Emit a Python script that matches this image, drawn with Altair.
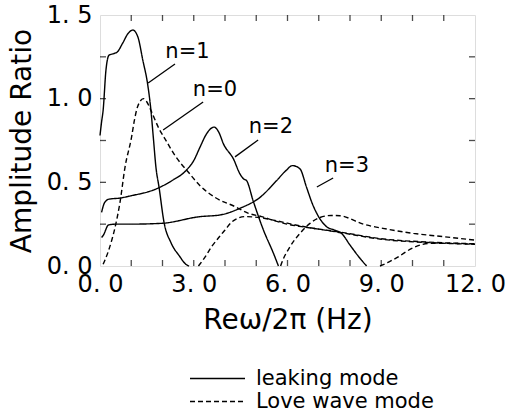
import altair as alt
import pandas as pd

# ---- curve data ----
n1_leak_x = [0.0, 0.05, 0.1, 0.19, 0.29, 0.45, 0.56, 0.72, 0.9, 1.05, 1.21, 1.37, 1.53, 1.63, 1.71, 1.79, 1.89, 2.05, 2.27, 2.54, 2.75, 2.85]
n1_leak_y = [0.78, 0.86, 0.93, 1.17, 1.26, 1.27, 1.28, 1.33, 1.39, 1.41, 1.37, 1.23, 1.08, 0.93, 0.76, 0.59, 0.47, 0.26, 0.14, 0.06, 0.01, 0.0]

n2_leak_x = [0.05, 0.15, 0.3, 0.6, 1.0, 1.79, 2.3, 2.75, 3.0, 3.2, 3.41, 3.65, 3.8, 3.95, 4.27, 4.48, 4.6, 4.69, 4.9, 5.23, 5.55, 5.71]
n2_leak_y = [0.32, 0.38, 0.40, 0.405, 0.42, 0.46, 0.51, 0.57, 0.63, 0.71, 0.79, 0.83, 0.80, 0.73, 0.64, 0.55, 0.52, 0.51, 0.39, 0.215, 0.076, 0.0]

n3_leak_x = [0.05, 0.11, 0.27, 0.5, 0.91, 1.97, 3.2, 3.84, 4.48, 5.12, 5.65, 5.95, 6.16, 6.4, 6.61, 6.8, 6.95, 7.25, 7.5, 7.73, 8.0, 8.32, 8.53]
n3_leak_y = [0.17, 0.185, 0.245, 0.25, 0.25, 0.255, 0.295, 0.305, 0.345, 0.41, 0.51, 0.57, 0.60, 0.58, 0.47, 0.37, 0.31, 0.235, 0.215, 0.195, 0.125, 0.046, 0.0]

n0_love_x = [0.1, 0.27, 0.48, 0.64, 0.8, 1.01, 1.1, 1.2, 1.39, 1.5, 1.63, 1.89, 2.08, 2.4, 2.83, 3.2, 3.68, 4.32, 4.75, 5.17, 5.6, 6.0, 6.45, 7.0, 7.84, 9.0, 10.5, 12.0]
n0_love_y = [0.01, 0.09, 0.23, 0.38, 0.59, 0.77, 0.87, 0.95, 1.0, 0.98, 0.93, 0.82, 0.76, 0.66, 0.56, 0.48, 0.41, 0.355, 0.315, 0.295, 0.27, 0.25, 0.235, 0.22, 0.195, 0.16, 0.14, 0.13]

n1_love_x = [3.15, 3.35, 3.57, 3.8, 4.0, 4.2, 4.4, 4.64, 4.9, 5.1, 5.6, 6.45, 7.84, 9.0, 10.5, 12.0]
n1_love_y = [0.0, 0.05, 0.115, 0.17, 0.215, 0.26, 0.285, 0.295, 0.293, 0.29, 0.272, 0.238, 0.198, 0.163, 0.143, 0.133]

n2_love_x = [5.78, 5.81, 6.08, 6.4, 6.72, 7.04, 7.4, 7.68, 8.43, 9.2, 10.03, 11.0, 12.0]
n2_love_y = [0.0, 0.016, 0.115, 0.195, 0.255, 0.29, 0.302, 0.30, 0.25, 0.22, 0.195, 0.175, 0.155]

n3_love_x = [8.96, 9.2, 9.5, 10.03, 10.56, 11.2, 12.0]
n3_love_y = [0.0, 0.02, 0.05, 0.11, 0.135, 0.135, 0.13]

modes = ["leaking mode", "Love wave mode"]

# ---- annotations ----
label_text = ["n=1", "n=0", "n=2", "n=3"]
label_x = [2.8, 3.68, 5.47, 7.9]
label_y = [1.279, 1.052, 0.83, 0.60]
leader_x = [1.54, 2.02, 4.32, 6.94]
leader_y = [1.094, 0.813, 0.652, 0.472]
leader_x2 = [2.4, 3.3, 5.06, 7.46]
leader_y2 = [1.207, 0.98, 0.753, 0.526]

# ---- axis ticks ----
x_label_values = [0, 3, 6, 9, 12]
y_label_values = [0, 0.5, 1.0, 1.5]
x_tick_values = [1, 2, 3, 4, 5, 6, 7, 8, 9, 10, 11]
y_tick_values = [0.25, 0.5, 0.75, 1.0, 1.25]

series = [
    ("n1_leak", modes[0], n1_leak_x, n1_leak_y),
    ("n2_leak", modes[0], n2_leak_x, n2_leak_y),
    ("n3_leak", modes[0], n3_leak_x, n3_leak_y),
    ("n0_love", modes[1], n0_love_x, n0_love_y),
    ("n1_love", modes[1], n1_love_x, n1_love_y),
    ("n2_love", modes[1], n2_love_x, n2_love_y),
    ("n3_love", modes[1], n3_love_x, n3_love_y),
]
rows = []
for name, mode, xs, ys in series:
    for i, (a, b) in enumerate(zip(xs, ys)):
        rows.append({"series": name, "mode": mode, "x": a, "y": b, "order": i})
df = pd.DataFrame(rows)

ann = pd.DataFrame({"label": label_text, "x": label_x, "y": label_y})
lead = pd.DataFrame({"x": leader_x, "y": leader_y, "x2": leader_x2, "y2": leader_y2})

FONT = "DejaVu Sans"
label_expr = "replace(format(datum.value, '.1f'), '.', '. ')"

xscale = alt.Scale(domain=[0, 12], nice=False, zero=False)
yscale = alt.Scale(domain=[0, 1.5], nice=False, zero=False)

xaxis = alt.Axis(values=x_label_values, title="Reω/2π (Hz)", ticks=False, domain=False, grid=False,
                 labelFlush=False, labelOverlap=False, labelExpr=label_expr, labelFontSize=24,
                 labelFont=FONT, labelColor="black", labelPadding=6, titleFont=FONT,
                 titleFontSize=28, titleFontWeight="normal", titleColor="black", titlePadding=10)
yaxis = alt.Axis(values=y_label_values, title="Amplitude Ratio", ticks=False, domain=False, grid=False,
                 labelFlush=False, labelOverlap=False, labelExpr=label_expr, labelFontSize=24,
                 labelFont=FONT, labelColor="black", labelPadding=8, titleFont=FONT,
                 titleFontSize=28, titleFontWeight="normal", titleColor="black", titlePadding=10)


def X(field):
    return alt.X(field, scale=xscale, axis=xaxis)


def Y(field):
    return alt.Y(field, scale=yscale, axis=yaxis)


lines = alt.Chart(df).mark_line(color="black", strokeWidth=1.4, interpolate="monotone").encode(
    x=X("x:Q"),
    y=Y("y:Q"),
    detail="series:N",
    order="order:Q",
    strokeDash=alt.StrokeDash(
        "mode:N",
        scale=alt.Scale(domain=modes, range=[[1, 0], [5, 3]]),
        legend=alt.Legend(title=None, orient="none", legendX=107, legendY=353, direction="vertical",
                          symbolType="M-5,0H5", symbolSize=121, symbolStrokeWidth=1.4,
                          symbolStrokeColor="black", symbolFillColor="transparent",
                          labelFont=FONT, labelFontSize=21, labelLimit=400,
                          labelColor="black", labelOffset=28, rowPadding=1, padding=0),
    ),
)

leaders = alt.Chart(lead).mark_rule(color="black", strokeWidth=1.3).encode(
    x=X("x:Q"), y=Y("y:Q"), x2="x2:Q", y2="y2:Q"
)

texts = alt.Chart(ann).mark_text(font=FONT, fontSize=21, color="black", align="center",
                                 baseline="middle").encode(x=X("x:Q"), y=Y("y:Q"), text="label:N")

bx = pd.DataFrame({"x": x_tick_values, "y": [0.0] * len(x_tick_values)})
tx = pd.DataFrame({"x": x_tick_values, "y": [1.5] * len(x_tick_values)})
ly = pd.DataFrame({"x": [0.0] * len(y_tick_values), "y": y_tick_values})
ry = pd.DataFrame({"x": [12.0] * len(y_tick_values), "y": y_tick_values})

tick_b = alt.Chart(bx).mark_tick(orient="vertical", size=6, thickness=1.3, color="black", yOffset=-3).encode(x=X("x:Q"), y=Y("y:Q"))
tick_t = alt.Chart(tx).mark_tick(orient="vertical", size=6, thickness=1.3, color="black", yOffset=3).encode(x=X("x:Q"), y=Y("y:Q"))
tick_l = alt.Chart(ly).mark_tick(orient="horizontal", size=6, thickness=1.3, color="black", xOffset=3).encode(x=X("x:Q"), y=Y("y:Q"))
tick_r = alt.Chart(ry).mark_tick(orient="horizontal", size=6, thickness=1.3, color="black", xOffset=-3).encode(x=X("x:Q"), y=Y("y:Q"))

chart = alt.layer(lines, leaders, texts, tick_b, tick_t, tick_l, tick_r).properties(
    width=375, height=251,
    autosize=alt.AutoSizeParams(type="none"),
    padding={"left": 100, "top": 15, "right": 30, "bottom": 149},
).configure_view(stroke="black", strokeWidth=1.8).configure(background="white")

chart.save("out.html", embed_options={"renderer": "svg", "actions": False})
